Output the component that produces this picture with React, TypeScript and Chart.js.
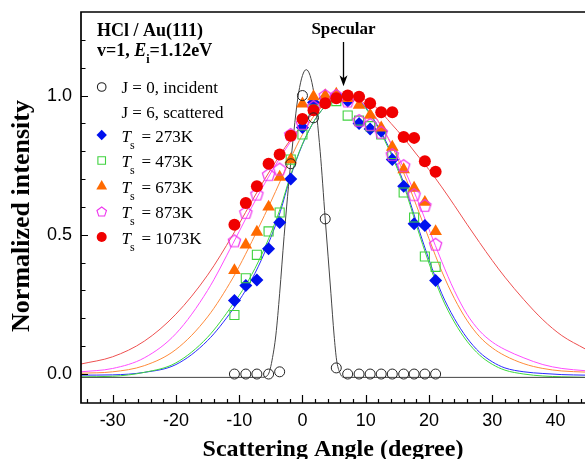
import React, { useEffect, useRef } from 'react';
import { Chart, registerables } from 'chart.js';

Chart.register(...registerables);

// ---- data ----
const angles = [-10.75, -8.95, -7.2, -5.35, -3.6, -1.85, 0, 1.75, 3.6, 5.35, 7.15, 8.95, 10.7, 12.45, 14.2, 16.0, 17.65, 19.35, 21.05];
const incident = [0, 0, 0, 0, 0.008, 0.755, 1.0, 0.92, 0.557, 0.022, 0, 0, 0, 0, 0, 0, 0, 0, 0];
const ts273 = [0.264, 0.318, 0.338, 0.45, 0.544, 0.70, 0.885, 0.975, 0.99, 1.0, 0.98, 0.90, 0.88, 0.872, 0.77, 0.674, 0.54, 0.533, 0.336];
const ts473 = [0.212, 0.344, 0.428, 0.512, 0.58, 0.77, 0.86, 0.95, 0.98, 0.98, 0.928, 0.91, 0.89, 0.86, 0.79, 0.652, 0.562, 0.422, 0.385];
const ts673 = [0.372, 0.464, 0.51, 0.60, 0.707, 0.77, 0.97, 0.996, 1.0, 1.005, 0.99, 0.966, 0.93, 0.884, 0.815, 0.734, 0.668, 0.617, 0.512];
const ts873 = [0.478, 0.58, 0.646, 0.716, 0.736, 0.86, 0.90, 0.96, 1.0, 1.0, 0.98, 0.91, 0.896, 0.868, 0.788, 0.748, 0.644, 0.605, 0.466];
const ts1073 = [0.536, 0.614, 0.674, 0.755, 0.788, 0.856, 0.916, 0.947, 0.972, 0.99, 1.0, 0.996, 0.972, 0.94, 0.94, 0.851, 0.848, 0.764, 0.726];

const fitAngles = [-35, -30, -25, -20, -15, -11, -9, -7, -5, -3.5, -2, 0, 2, 4, 6, 7, 8, 10, 12, 14, 16, 18, 20, 22, 24, 26, 28, 30, 32, 35, 38, 41, 44.7];
const fit273 = [-0.004, -0.003, 0.006, 0.034, 0.12, 0.232, 0.30, 0.385, 0.49, 0.583, 0.70, 0.824, 0.914, 0.97, 0.994, 1.0, 0.997, 0.957, 0.887, 0.797, 0.687, 0.547, 0.411, 0.29, 0.20, 0.13, 0.078, 0.044, 0.022, 0.008, 0.002, -0.002, -0.004];
const fit473 = [-0.01, -0.008, 0.006, 0.04, 0.132, 0.25, 0.318, 0.402, 0.505, 0.595, 0.705, 0.826, 0.914, 0.97, 0.994, 1.0, 0.996, 0.954, 0.882, 0.79, 0.678, 0.535, 0.398, 0.277, 0.187, 0.118, 0.068, 0.035, 0.014, 0.0, -0.007, -0.01, -0.012];
const fit673 = [0.003, 0.008, 0.03, 0.088, 0.205, 0.345, 0.43, 0.522, 0.618, 0.693, 0.768, 0.86, 0.932, 0.976, 0.996, 1.0, 0.995, 0.968, 0.908, 0.826, 0.722, 0.606, 0.486, 0.37, 0.272, 0.193, 0.134, 0.094, 0.066, 0.037, 0.02, 0.011, 0.007];
const fit873 = [0.008, 0.02, 0.058, 0.145, 0.30, 0.468, 0.556, 0.642, 0.722, 0.778, 0.83, 0.894, 0.944, 0.976, 0.996, 1.0, 0.995, 0.965, 0.905, 0.83, 0.74, 0.635, 0.52, 0.405, 0.30, 0.215, 0.155, 0.115, 0.088, 0.058, 0.034, 0.02, 0.012];
const fit1073 = [0.036, 0.062, 0.118, 0.215, 0.355, 0.50, 0.58, 0.66, 0.735, 0.788, 0.838, 0.895, 0.942, 0.975, 0.995, 1.0, 1.0, 0.985, 0.95, 0.90, 0.848, 0.79, 0.734, 0.672, 0.606, 0.538, 0.472, 0.408, 0.348, 0.267, 0.195, 0.138, 0.09];

const incFitAngles = [-35, -6.5, -5.6, -5.2, -4.8, -4.2, -3.6, -2.9, -1.8, -0.6, 0.6, 1.8, 2.8, 3.6, 4.5, 5.0, 5.4, 5.9, 6.5, 44.7];
const incFit = [-0.012, -0.012, -0.007, 0.01, 0.05, 0.14, 0.29, 0.494, 0.77, 1.01, 1.093, 1.01, 0.80, 0.557, 0.29, 0.14, 0.05, 0.005, -0.012, -0.012];

const xMajorTicks = [-30, -20, -10, 0, 10, 20, 30, 40];
const yLabelTicks = [0, 0.5, 1.0];
const tempLabels = ['273K', '473K', '673K', '873K', '1073K'];
const specularAngle = 6.4;

const SERIF = '"Liberation Serif", "Times New Roman", serif';
const SANS = '"Liberation Sans", Arial, sans-serif';

const C = {
  blue: '#0010ee', blueLine: '#2a2aff',
  green: '#3fd23f', greenLine: '#3ed83e',
  orange: '#ff6a00', orangeLine: '#ff8a3a',
  magenta: '#ee33ee', magentaLine: '#ff4cff',
  red: '#f00000', redLine: '#ee5050',
  black: '#222', blackLine: '#444',
};

function pentagonCanvas(r: number, color: string) {
  const size = Math.ceil(r * 2 + 4);
  const c = document.createElement('canvas');
  c.width = size; c.height = size;
  const g = c.getContext('2d')!;
  g.strokeStyle = color; g.lineWidth = 1.2;
  g.beginPath();
  for (let i = 0; i < 5; i++) {
    const a = -Math.PI / 2 + (i * 2 * Math.PI) / 5;
    const px = size / 2 + r * Math.cos(a), py = size / 2 + r * Math.sin(a) + 0.5;
    if (i === 0) g.moveTo(px, py); else g.lineTo(px, py);
  }
  g.closePath(); g.stroke();
  return c;
}

function drawMarker(ctx: CanvasRenderingContext2D, kind: string, x: number, y: number) {
  ctx.save();
  ctx.lineWidth = 1.1;
  ctx.beginPath();
  if (kind === 'circleOpen') {
    ctx.arc(x, y, 4.3, 0, Math.PI * 2); ctx.strokeStyle = C.black; ctx.stroke();
  } else if (kind === 'diamond') {
    ctx.moveTo(x - 5.2, y); ctx.lineTo(x, y - 5.2); ctx.lineTo(x + 5.2, y); ctx.lineTo(x, y + 5.2); ctx.closePath();
    ctx.fillStyle = C.blue; ctx.fill();
  } else if (kind === 'square') {
    ctx.rect(x - 3.8, y - 3.8, 7.6, 7.6); ctx.strokeStyle = C.green; ctx.stroke();
  } else if (kind === 'triangle') {
    ctx.moveTo(x, y - 6); ctx.lineTo(x + 5.4, y + 3.5); ctx.lineTo(x - 5.4, y + 3.5); ctx.closePath();
    ctx.fillStyle = C.orange; ctx.fill();
  } else if (kind === 'pentagon') {
    for (let i = 0; i < 5; i++) {
      const a = -Math.PI / 2 + (i * 2 * Math.PI) / 5;
      const px = x + 5 * Math.cos(a), py = y + 5 * Math.sin(a) + 0.5;
      if (i === 0) ctx.moveTo(px, py); else ctx.lineTo(px, py);
    }
    ctx.closePath(); ctx.strokeStyle = C.magenta; ctx.stroke();
  } else if (kind === 'dot') {
    ctx.arc(x, y, 5, 0, Math.PI * 2); ctx.fillStyle = C.red; ctx.fill();
  }
  ctx.restore();
}

const decorPlugin = {
  id: 'decor',
  afterDraw(chart: any) {
    const { ctx, chartArea: a, scales } = chart;
    const xs = scales.x, ys = scales.y;
    ctx.save();
    // frame
    ctx.strokeStyle = '#000';
    ctx.lineWidth = 1.7;
    ctx.beginPath();
    ctx.moveTo(a.right + 2, a.top); ctx.lineTo(a.left, a.top); ctx.lineTo(a.left, a.bottom); ctx.lineTo(a.right + 2, a.bottom);
    ctx.stroke();
    // inward ticks
    ctx.lineWidth = 1.2;
    ctx.beginPath();
    for (let v = -34; v <= 44; v += 2) {
      const px = Math.round(xs.getPixelForValue(v)) + 0.5;
      const len = xMajorTicks.includes(v) ? 8 : 4;
      ctx.moveTo(px, a.bottom); ctx.lineTo(px, a.bottom - len);
    }
    for (let k = 0; k <= 12; k++) {
      const py = Math.round(ys.getPixelForValue(k / 10)) + 0.5;
      const len = k % 5 === 0 ? 7 : 4.5;
      ctx.moveTo(a.left, py); ctx.lineTo(a.left + len, py);
    }
    ctx.stroke();

    ctx.fillStyle = '#000';
    ctx.textBaseline = 'alphabetic';
    // axis titles
    ctx.font = `bold 24px ${SERIF}`;
    ctx.textAlign = 'center';
    ctx.fillText('Scattering Angle (degree)', (a.left + a.right) / 2, 456);
    ctx.save();
    ctx.translate(29, 216);
    ctx.rotate(-Math.PI / 2);
    ctx.font = `bold 26px ${SERIF}`;
    ctx.fillText('Normalized intensity', 0, 0);
    ctx.restore();

    // title text
    ctx.textAlign = 'left';
    ctx.font = `bold 18px ${SERIF}`;
    ctx.fillText('HCl / Au(111)', 97, 36);
    let cx = 97;
    const seg = (t: string, font: string, dy = 0) => {
      ctx.font = font; ctx.fillText(t, cx, 56 + dy); cx += ctx.measureText(t).width;
    };
    seg('v=1, ', `bold 18px ${SERIF}`);
    seg('E', `italic bold 18px ${SERIF}`);
    seg('i', `bold 12px ${SERIF}`, 7);
    seg('=1.12eV', `bold 18px ${SERIF}`);

    // specular annotation
    const sx = Math.round(xs.getPixelForValue(specularAngle)) + 0.5;
    ctx.font = `bold 17px ${SERIF}`;
    ctx.textAlign = 'center';
    ctx.fillText('Specular', sx, 34);
    const tip = ys.getPixelForValue(1.033);
    ctx.lineWidth = 1.3;
    ctx.beginPath(); ctx.moveTo(sx, 42); ctx.lineTo(sx, tip - 6); ctx.stroke();
    ctx.beginPath(); ctx.moveTo(sx, tip); ctx.lineTo(sx - 4, tip - 11); ctx.lineTo(sx, tip - 8); ctx.lineTo(sx + 4, tip - 11); ctx.closePath(); ctx.fill();

    // legend
    ctx.textAlign = 'left';
    const mx = 101.7, tx = 121.5;
    drawMarker(ctx, 'circleOpen', mx, 87);
    ctx.font = `17px ${SERIF}`;
    ctx.fillText('J = 0, incident', tx, 92.5);
    ctx.fillText('J = 6, scattered', tx, 118);
    const kinds = ['diamond', 'square', 'triangle', 'pentagon', 'dot'];
    const rows = [141.5, 167, 192.5, 218, 243.5];
    kinds.forEach((k, i) => {
      const by = rows[i];
      drawMarker(ctx, k, mx, by - 6.5);
      ctx.font = `italic 17px ${SERIF}`;
      ctx.fillText('T', tx, by);
      ctx.font = `12px ${SERIF}`;
      ctx.fillText('s', tx + 8.5, by + 7);
      ctx.font = `17px ${SERIF}`;
      ctx.fillText('= ' + tempLabels[i], 141.5, by);
    });
    ctx.restore();
  },
};

function pts(xv: number[], yv: number[]) {
  return xv.map((x, i) => ({ x, y: yv[i] }));
}

export default function App() {
  const ref = useRef<HTMLCanvasElement>(null);
  useEffect(() => {
    const canvas = ref.current!;
    const pent = pentagonCanvas(6.5, C.magenta);
    const fit = (yv: number[], color: string, xv = fitAngles) => ({
      data: pts(xv, yv), showLine: true, borderColor: color, borderWidth: 1,
      pointRadius: 0, cubicInterpolationMode: 'monotone' as const, order: 10,
    });
    const chart = new Chart(canvas, {
      type: 'scatter',
      data: {
        datasets: [
          fit(incFit, C.blackLine, incFitAngles),
          fit(fit1073, C.redLine),
          fit(fit873, C.magentaLine),
          fit(fit673, C.orangeLine),
          fit(fit473, C.greenLine),
          fit(fit273, C.blueLine),
          { data: pts(angles, ts273), pointStyle: 'rectRot', pointRadius: 6.5, backgroundColor: C.blue, borderColor: C.blue, borderWidth: 0, order: 6 } as any,
          { data: pts(angles, ts473), pointStyle: 'rect', pointRadius: 6.4, backgroundColor: 'rgba(0,0,0,0)', borderColor: C.green, borderWidth: 1.1, order: 5 },
          { data: pts(angles, ts673), pointStyle: 'triangle', pointRadius: 7.3, backgroundColor: C.orange, borderColor: C.orange, borderWidth: 0, order: 4 },
          { data: pts(angles, ts873), pointStyle: pent, order: 3 } as any,
          { data: pts(angles, ts1073), pointStyle: 'circle', pointRadius: 6, backgroundColor: C.red, borderColor: C.red, borderWidth: 0, order: 2 },
          { data: pts(angles, incident), pointStyle: 'circle', pointRadius: 5, backgroundColor: 'rgba(0,0,0,0)', borderColor: C.black, borderWidth: 1, order: 1 },
        ],
      },
      options: {
        animation: false,
        responsive: false,
        events: [],
        layout: { autoPadding: false, padding: { top: 12, right: 0, left: 0, bottom: 0 } },
        plugins: { legend: { display: false }, tooltip: { enabled: false } },
        scales: {
          x: {
            type: 'linear', min: -35, max: 44.66,
            border: { display: false },
            grid: { display: false, drawTicks: false },
            afterFit: (s: any) => { s.height = 56; s.paddingLeft = 0; s.paddingRight = 0; },
            afterBuildTicks: (s: any) => { s.ticks = xMajorTicks.map((v) => ({ value: v })); },
            ticks: {
              autoSkip: false, maxRotation: 0, padding: 7, color: '#000',
              font: { family: SANS, size: 18 },
              callback: (v: any) => String(v),
            },
          },
          y: {
            type: 'linear', min: -0.104, max: 1.3,
            border: { display: false },
            grid: { display: false, drawTicks: false },
            afterFit: (s: any) => { s.width = 81; s.paddingTop = 0; s.paddingBottom = 0; },
            afterBuildTicks: (s: any) => { s.ticks = yLabelTicks.map((v) => ({ value: v })); },
            ticks: {
              autoSkip: false, padding: 9, color: '#000',
              font: { family: SANS, size: 18 },
              callback: (v: any) => Number(v).toFixed(1),
            },
          },
        },
      },
      plugins: [decorPlugin],
    });
    return () => chart.destroy();
  }, []);
  return (
    <div style={{ position: 'fixed', left: 0, top: 0, width: 585, height: 459, background: '#fff' }}>
      <canvas ref={ref} width={585} height={459} style={{ display: 'block', width: 585, height: 459 }} />
    </div>
  );
}
